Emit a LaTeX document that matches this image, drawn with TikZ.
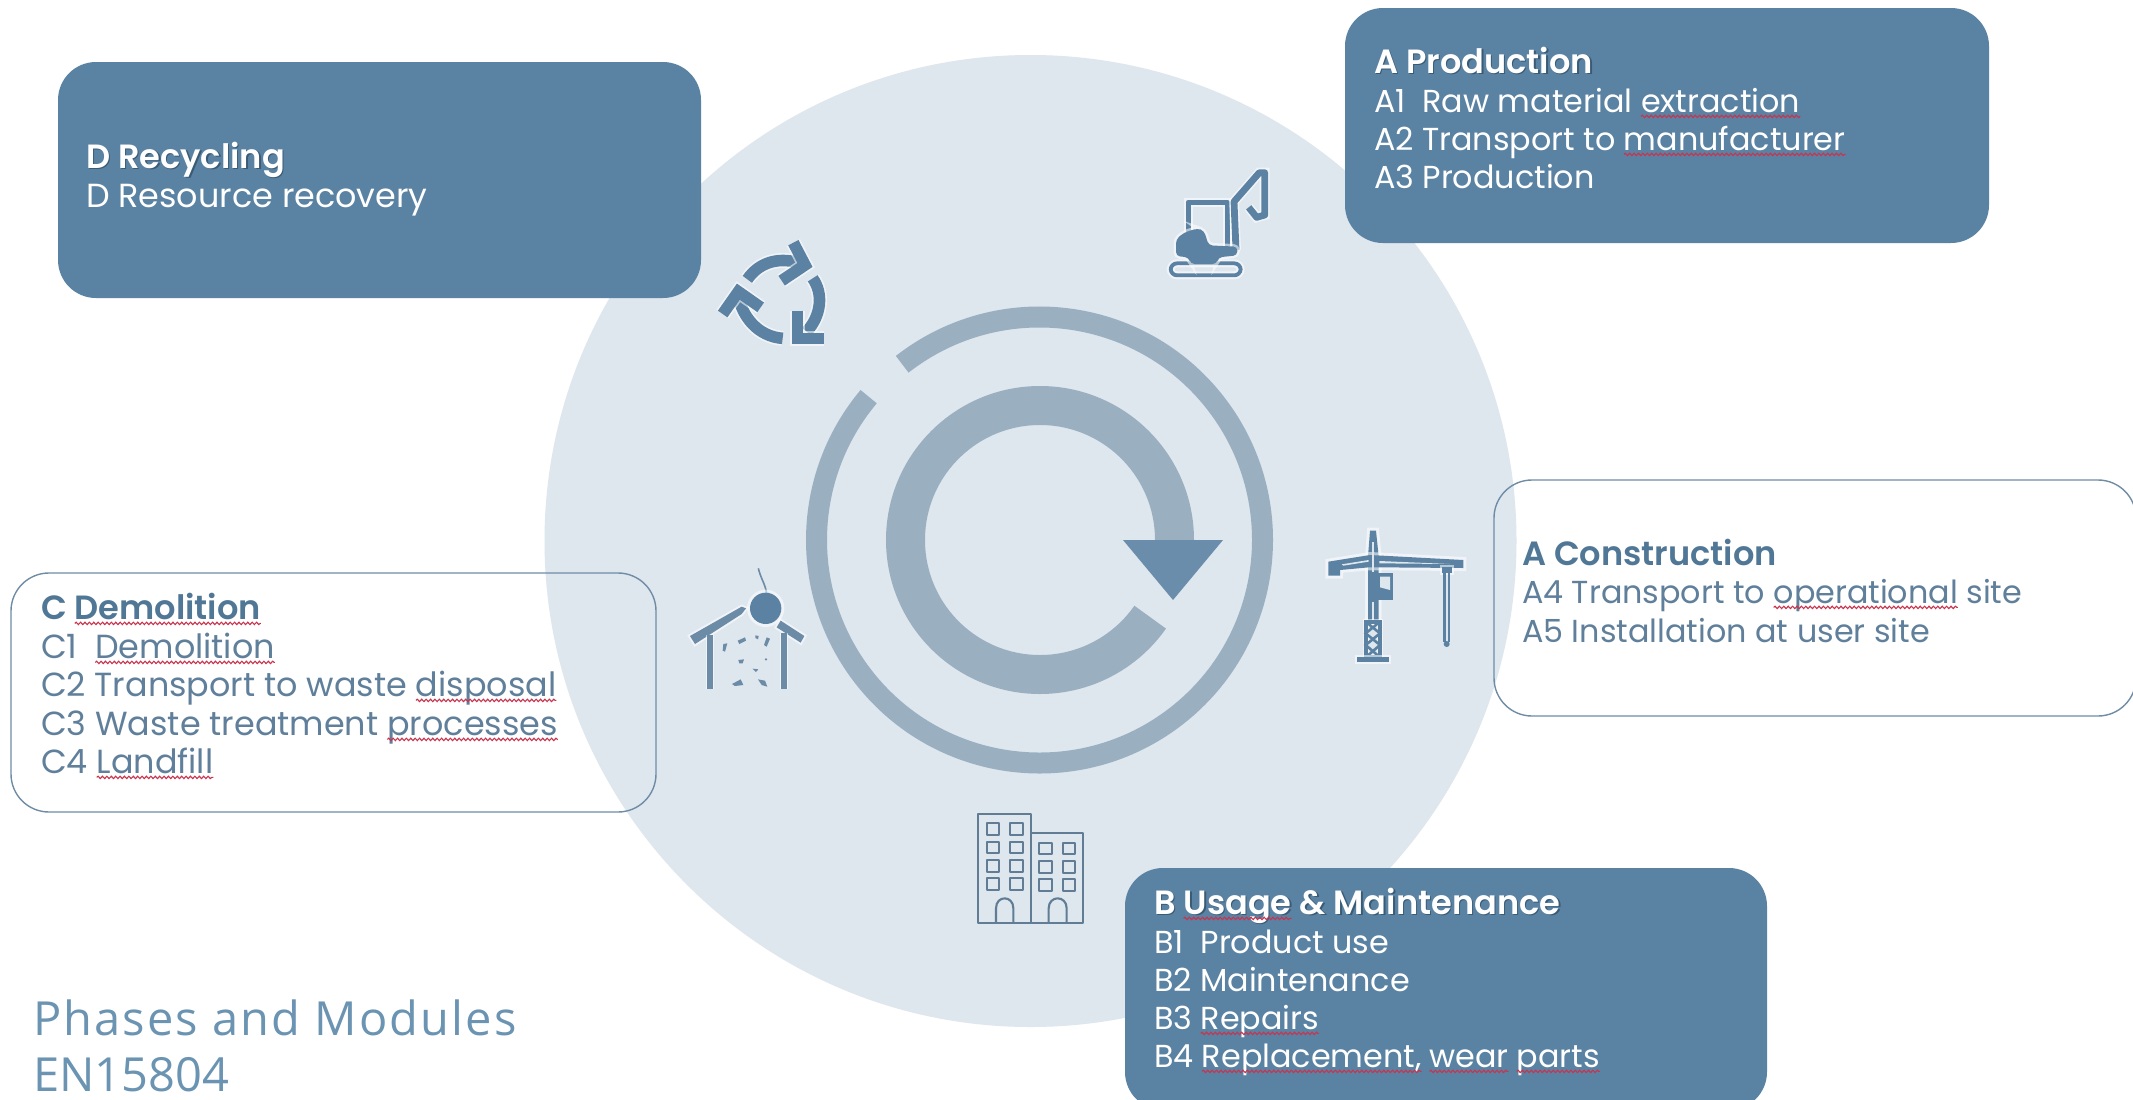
\documentclass[tikz,border=0pt]{standalone}
\usepackage{fontspec}
\usetikzlibrary{decorations.pathmorphing,calc}
\setmainfont{Poppins}
\newfontfamily\semib{Poppins SemiBold}
\newfontfamily\phasefont[LetterSpace=4.5]{Open Sans}
\newfontfamily\phasefontb{Open Sans}
\definecolor{boxblue}{HTML}{5A82A3}
\definecolor{disc}{HTML}{DEE6EE}
\definecolor{ringc}{HTML}{9AB0C1}
\definecolor{tric}{HTML}{6A8DAB}
\definecolor{edgec}{HTML}{6F8CA6}
\definecolor{txtc}{HTML}{5F7F9B}
\definecolor{ttlc}{HTML}{517796}
\definecolor{iconc}{HTML}{5B82A2}
\definecolor{iconb}{HTML}{6B8BA6}
\definecolor{squigc}{HTML}{C9344F}
\definecolor{shadowc}{HTML}{3A5B75}
\definecolor{phasec}{HTML}{6A94B2}
\tikzset{
  filledbox/.style={fill=boxblue,rounded corners=19pt},
  linebox/.style={draw=edgec,line width=.7pt,rounded corners=19pt},
  txt/.style={inner sep=0pt,outer sep=0pt,anchor=base west,font=\fontsize{15.9}{19}\selectfont},
  big/.style={font=\fontsize{16.7}{19}\selectfont},
  ttl/.style={inner sep=0pt,outer sep=0pt,anchor=base west,font=\fontsize{16.8}{19}\semib},
  squig/.style={draw=squigc,line width=.55pt,decorate,decoration={snake,amplitude=.6pt,segment length=2.2pt}},
  halo/.style={preaction={draw=white,draw opacity=.55,line width=#1}},
  iconscope/.style={x=.16667pt,y=-.16667pt},
}
% plain line
\newcommand{\tline}[6][]{\node[txt,text=#2,#1] (#3) at (#4,#5) {#6};}
% line followed by a spell-checked word: options, colour, name, x, y, prefix, word
\newcommand{\sqline}[7][]{%
  \node[txt,text=#2,#1] (#3p) at (#4,#5) {#6\ \null};
  \node[txt,text=#2,#1] (#3w) at (#3p.base east) {#7};
  \draw[squig] ([yshift=-2.2pt]#3w.base west) -- ([yshift=-2.2pt]#3w.base east);}
\begin{document}
\begin{tikzpicture}[x=.5pt,y=-.5pt]
\useasboundingbox (0,0) rectangle (2133,1099);
\clip (0,0) rectangle (2133,1099);
\fill[white] (0,0) rectangle (2133,1099);
% disc
\fill[disc] (1030.5,541) circle[radius=486];
% rings
\draw[ringc,line width=10.5pt] (1039.5,540) ++(-128:223) arc[start angle=-128,end angle=220,radius=223];
\draw[ringc,line width=19.5pt] (1040,540) ++(0:134.5) arc[start angle=0,end angle=-325,radius=134.5];
\fill[tric] (1123,540) -- (1223,540) -- (1173,600) -- cycle;
% boxes
\fill[filledbox] (1345,8) rectangle (1989,243);
\fill[filledbox] (58,62) rectangle (701,298);
\fill[filledbox] (1125,868) rectangle (1767,1110);
\draw[linebox] (1494,480) rectangle (2136,716);
\draw[linebox] (11,573) rectangle (656,812);
% A Production
\node[ttl,text=shadowc] (apshadow) at (1375.5,74.5) {A Production};
\node[ttl,text=white] (aptitle) at (1374,73) {A Production};
\sqline{white}{aone}{1374}{112}{A1\ \ Raw material}{extraction}
\sqline{white}{atwo}{1374}{150}{A2 Transport to}{manufacturer}
\tline{white}{athree}{1374}{188}{A3 Production}
% D
\node[ttl,text=shadowc] (dshadow) at (87.5,169.5) {D Recycling};
\node[ttl,text=white] (dtitle) at (86,168) {D Recycling};
\tline[big]{white}{done}{86}{207}{D Resource recovery}
% Construction
\node[ttl,text=ttlc] (cotitle) at (1522,565) {A Construction};
\node[txt,text=txtc] (afourp) at (1522,603) {A4 Transport to\ \null};
\node[txt,text=txtc] (afourw) at (afourp.base east) {operational};
\node[txt,text=txtc] (afourr) at (afourw.base east) {\ site};
\draw[squig] ([yshift=-2.2pt]afourw.base west) -- ([yshift=-2.2pt]afourw.base east);
\tline{txtc}{afive}{1522}{642}{A5 Installation at user site}
% Demolition
\node[ttl,text=ttlc] (ctp) at (41,619) {C\ \null};
\node[ttl,text=ttlc] (ctw) at (ctp.base east) {Demolition};
\draw[squig] ([yshift=-2.2pt]ctw.base west) -- ([yshift=-2.2pt]ctw.base east);
\sqline[big]{txtc}{cone}{41}{658}{C1\ }{Demolition}
\sqline[big]{txtc}{ctwo}{41}{696}{C2 Transport to waste}{disposal}
\sqline[big]{txtc}{cthree}{41}{735}{C3 Waste treatment}{processes}
\sqline[big]{txtc}{cfour}{41}{773}{C4}{Landfill}
% Usage
\node[ttl,text=shadowc] (bsa) at (1155.5,915.5) {B Usage \& Maintenance};
\node[ttl,text=white] (btp) at (1154,914) {B\ \null};
\node[ttl,text=white] (btw) at (btp.base east) {Usage};
\node[ttl,text=white] (btr) at (btw.base east) {\ \& Maintenance};
\draw[squig] ([yshift=-2.2pt]btw.base west) -- ([yshift=-2.2pt]btw.base east);
\tline{white}{bone}{1154}{953}{B1\ \ Product use}
\tline{white}{btwo}{1154}{991}{B2 Maintenance}
\sqline{white}{bthree}{1154}{1029}{B3}{Repairs}
\node[txt,text=white] (bfourp) at (1154,1067) {B4\ \null};
\node[txt,text=white] (bfourw) at (bfourp.base east) {Replacement,};
\node[txt,text=white] (bfourx) at ([xshift=4pt]bfourw.base east) {wear};
\node[txt,text=white] (bfoury) at ([xshift=4pt]bfourx.base east) {parts};
\draw[squig] ([yshift=-2.2pt]bfourw.base west) -- ([yshift=-2.2pt]bfourw.base east);
\draw[squig] ([yshift=-2.2pt]bfourx.base west) -- ([yshift=-2.2pt]bfourx.base east);
\draw[squig] ([yshift=-2.2pt]bfoury.base west) -- ([yshift=-2.2pt]bfoury.base east);
% caption
\node[txt,text=phasec,font=\fontsize{23.5}{28}\phasefont] (capa) at (33,1035) {Phases and Modules};
\node[txt,text=phasec,font=\fontsize{23.5}{28}\phasefontb] (capb) at (33,1091) {EN15804};
% excavator
\begin{scope}[shift={(1100,130)},iconscope]
\draw[iconc,line width=1.9pt,rounded corners=3.2pt,halo=4pt] (212,400) rectangle (422,436);
\draw[iconc,line width=2.8pt,line join=round,halo=4.5pt] (265,305) -- (265,217) -- (382,217) -- (382,350);
\draw[iconc,line width=3.4pt,line join=round,halo=5pt] (408,360) -- (402,215) -- (478,128) -- (494,128) -- (494,255) -- (470,262) -- (446,232);
\fill[iconc,rounded corners=2pt,halo=2.5pt] (228,378) -- (228,328) -- (252,308) -- (292,295) -- (312,302) -- (326,346) -- (412,350) -- (412,376) -- (355,382) -- (350,402) -- (272,402) -- (266,382) -- cycle;
\end{scope}
% recycling
\begin{scope}[shift={(690,220)},iconscope]
\tikzset{rec/.style={iconc,line width=5.8pt,halo=7.5pt}}
\draw[rec] (172,178) .. controls (205,130) and (260,110) .. (325,128);
\draw[rec,miter limit=4] (310,68) -- (345,135) -- (275,182);
\draw[rec] (368,175) .. controls (400,220) and (395,285) .. (350,335);
\draw[rec] (322,272) -- (322,355) -- (403,355);
\draw[rec] (278,355) .. controls (205,350) and (155,290) .. (145,225);
\draw[rec] (98,282) -- (145,215) -- (212,262);
\end{scope}
% crane
\begin{scope}[shift={(1300,510)},iconscope]
\fill[iconc,halo=3pt] (204,140) -- (210,62) -- (228,62) -- (236,140) -- (236,340) -- (204,340) -- cycle;
\fill[iconc,halo=3pt] (85,155) -- (210,135) -- (490,150) -- (490,174) -- (240,172) -- (206,172) -- (120,180) -- (120,197) -- (85,197) -- cycle;
\fill[disc] (125,163) -- (206,150) -- (206,155) -- (130,167) -- cycle;
\fill[disc] (238,153) -- (450,162) -- (238,160) -- cycle;
\fill[disc] (217,95) rectangle (222,185);
\fill[iconc] (204,188) -- (278,188) -- (278,270) -- (204,270) -- cycle;
\fill[disc] (240,200) -- (270,200) -- (270,240) -- (240,232) -- cycle;
\fill[disc] (217,275) rectangle (223,335);
\draw[iconc,line width=1.9pt,halo=3pt] (197,335) rectangle (240,442);
\draw[iconc,line width=1.3pt] (197,335) -- (240,370) -- (197,405) -- (240,442) (240,335) -- (197,370) -- (240,405) -- (197,442);
\fill[iconc,halo=2pt] (170,440) rectangle (268,455);
\fill[iconc,halo=2pt] (425,170) rectangle (455,190);
\draw[iconc,line width=1.3pt] (433,190) -- (433,395) (447,190) -- (447,395);
\fill[iconc] (440,402) circle[radius=9];
\end{scope}
% demolition
\begin{scope}[shift={(670,550)},iconscope]
\draw[iconb,line width=.8pt] (265,55) .. controls (272,85) and (285,100) .. (290,130);
\fill[iconb,halo=2pt] (60,258) -- (215,170) -- (228,175) -- (215,192) -- (75,282) -- cycle;
\fill[iconb,halo=2pt] (332,212) -- (403,258) -- (392,278) -- (320,232) -- cycle;
\draw[iconb,line width=3pt,halo=4pt] (120,255) -- (120,418);
\draw[iconb,line width=3pt,halo=4pt] (342,248) -- (342,418);
\fill[iconc,halo=3pt] (287,175) circle[radius=47];
\fill[iconb] (203,272) -- (225,262) -- (228,272) -- (208,282) -- cycle;
\fill[iconb] (160,282) -- (172,280) -- (165,305) -- (158,302) -- cycle;
\fill[iconb] (290,262) -- (300,266) -- (290,290) -- (282,285) -- cycle;
\fill[iconb] (256,256) -- (266,258) -- (264,268) -- (256,264) -- cycle;
\fill[iconb] (205,330) -- (222,328) -- (218,340) -- (208,340) -- cycle;
\fill[iconb] (248,356) -- (265,358) -- (258,366) -- cycle;
\fill[iconb] (186,402) -- (212,388) -- (220,405) -- (195,408) -- cycle;
\fill[iconb] (264,388) -- (285,392) -- (292,410) -- (275,405) -- cycle;
\fill[iconb] (288,328) circle[radius=4];
\end{scope}
% building
\begin{scope}[shift={(960,800)},iconscope]
\tikzset{bld/.style={draw=iconb!90!black,line width=1.05pt,line join=round}}
\draw[bld] (213,368) -- (55,368) -- (55,42) -- (213,42) -- (213,368) -- (370,368) -- (370,98) -- (213,98);
\foreach \y in {70,125,180,235}{
  \draw[bld] (82,\y) rectangle (118,\y+35);
  \draw[bld] (150,\y) rectangle (188,\y+35);}
\foreach \y in {128,183,238}{
  \draw[bld] (238,\y) rectangle (276,\y+35);
  \draw[bld] (308,\y) rectangle (345,\y+35);}
\draw[bld] (108,368) -- (108,325) .. controls (108,285) and (160,285) .. (160,325) -- (160,368);
\draw[bld] (266,368) -- (266,325) .. controls (266,285) and (320,285) .. (320,325) -- (320,368);
\end{scope}
\end{tikzpicture}
\end{document}
